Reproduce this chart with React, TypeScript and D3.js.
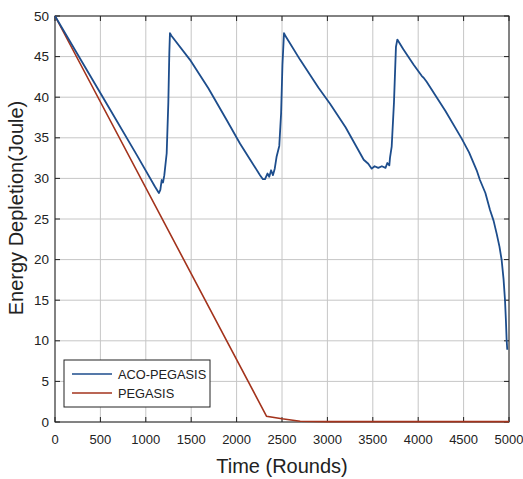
import React from "react";
import * as d3 from "d3";

const xTicks = [0, 500, 1000, 1500, 2000, 2500, 3000, 3500, 4000, 4500, 5000];
const yTicks = [0, 5, 10, 15, 20, 25, 30, 35, 40, 45, 50];

const acoRounds = [
  0, 300, 600, 900, 1100, 1144, 1160, 1175, 1190, 1204, 1230, 1248, 1259, 1266, 1280,
  1487, 1689, 1900, 2037, 2150, 2258, 2290, 2313, 2340, 2360, 2380, 2400, 2420, 2441,
  2470, 2490, 2505, 2522, 2540, 2700, 2900, 3029, 3200, 3400, 3450, 3488, 3520, 3560,
  3600, 3640, 3660, 3682, 3690, 3708, 3733, 3755, 3770, 3836, 3950, 4040, 4060,
  4093, 4300, 4479, 4560, 4644, 4680, 4740, 4791, 4830, 4864, 4895, 4919, 4940, 4956,
  4966, 4974, 4981,
];
const acoEnergy = [
  50, 44.3, 38.6, 32.9, 29.0, 28.2, 28.6, 29.8, 29.5, 30.4, 33.1, 39.3, 45.4, 47.9, 47.6,
  44.6, 41.1, 37.0, 34.3, 32.3, 30.4, 29.9, 29.9, 30.6, 30.2, 31.0, 30.4, 31.2, 32.7,
  34.0, 38.0, 44.0, 47.9, 47.5, 44.6, 41.2, 39.2, 36.3, 32.3, 31.8, 31.2, 31.5, 31.3,
  31.5, 31.3, 31.9, 31.6, 32.6, 33.9, 39.3, 46.2, 47.1, 45.9, 44.0, 42.6, 42.4,
  41.9, 38.3, 34.9, 33.2, 31.0, 29.8, 28.2, 26.1, 24.8, 23.2, 21.6, 19.95, 17.6, 15.0,
  12.5, 10.1, 8.9,
];

const pegRounds = [0, 2330, 2500, 2700, 3000, 5000];
const pegEnergy = [50, 0.7, 0.4, 0.1, 0.05, 0.05];

const seriesNames = ["ACO-PEGASIS", "PEGASIS"];
const seriesColors = ["#1d4d8c", "#a3331c"];

export default function App() {
  const W = 523, H = 479;
  const left = 55, right = 509, top = 16, bottom = 422;
  const x = d3.scaleLinear().domain([0, 5000]).range([left, right]);
  const y = d3.scaleLinear().domain([0, 50]).range([bottom, top]);
  const line = d3.line<[number, number]>().x((d) => x(d[0])).y((d) => y(d[1]));
  const aco = acoRounds.map((r, i) => [r, acoEnergy[i]] as [number, number]);
  const peg = pegRounds.map((r, i) => [r, pegEnergy[i]] as [number, number]);
  const font = "'Liberation Sans', Arial, Helvetica, sans-serif";

  return (
    <svg width={W} height={H} style={{ position: "absolute", left: 0, top: 0, background: "#fff" }} fontFamily={font}>
      <rect x={0} y={0} width={W} height={H} fill="#fff" />
      {xTicks.map((t) => (
        <line key={"gx" + t} x1={x(t)} x2={x(t)} y1={top} y2={bottom} stroke="#c6c6c6" strokeWidth={1} />
      ))}
      {yTicks.map((t) => (
        <line key={"gy" + t} x1={left} x2={right} y1={y(t)} y2={y(t)} stroke="#c6c6c6" strokeWidth={1} />
      ))}
      {xTicks.map((t) => (
        <g key={"tx" + t}>
          <line x1={x(t)} x2={x(t)} y1={bottom} y2={bottom - 5} stroke="#222" />
          <line x1={x(t)} x2={x(t)} y1={top} y2={top + 5} stroke="#222" />
          <text x={x(t)} y={444} textAnchor="middle" fontSize={13} fill="#222">{t}</text>
        </g>
      ))}
      {yTicks.map((t) => (
        <g key={"ty" + t}>
          <line x1={left} x2={left + 5} y1={y(t)} y2={y(t)} stroke="#222" />
          <line x1={right} x2={right - 5} y1={y(t)} y2={y(t)} stroke="#222" />
          <text x={49} y={y(t) + 4.5} textAnchor="end" fontSize={13.5} fill="#222">{t}</text>
        </g>
      ))}
      <rect x={left} y={top} width={right - left} height={bottom - top} fill="none" stroke="#222" strokeWidth={1} />
      <path d={line(peg) || ""} fill="none" stroke={seriesColors[1]} strokeWidth={1.6} />
      <path d={line(aco) || ""} fill="none" stroke={seriesColors[0]} strokeWidth={1.8} strokeLinejoin="round" />
      <text x={282} y={473} textAnchor="middle" fontSize={20} fill="#222">Time (Rounds)</text>
      <text transform="translate(23,208) rotate(-90)" textAnchor="middle" fontSize={20} fill="#222">Energy Depletion(Joule)</text>
      <g>
        <rect x={64} y={360} width={146} height={47} fill="#fff" stroke="#222" strokeWidth={1} />
        {seriesNames.map((n, i) => (
          <g key={n}>
            <line x1={72} x2={112} y1={374 + i * 19} y2={374 + i * 19} stroke={seriesColors[i]} strokeWidth={1.6} />
            <text x={118} y={378.5 + i * 19} fontSize={12.8} fill="#222">{n}</text>
          </g>
        ))}
      </g>
    </svg>
  );
}
